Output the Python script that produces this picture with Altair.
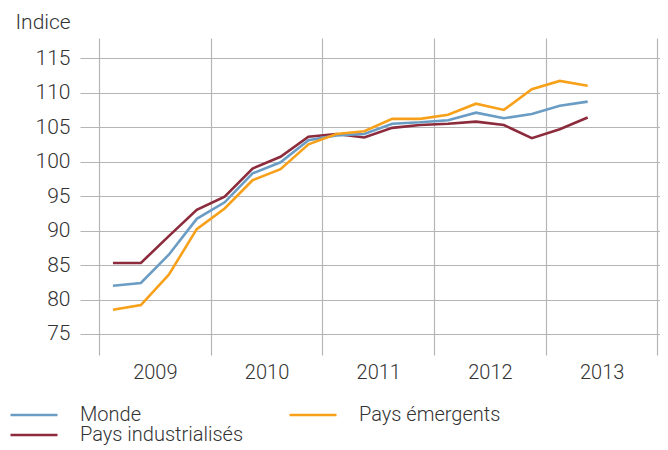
import altair as alt
import pandas as pd

quarters = ["2009-Q1", "2009-Q2", "2009-Q3", "2009-Q4",
            "2010-Q1", "2010-Q2", "2010-Q3", "2010-Q4",
            "2011-Q1", "2011-Q2", "2011-Q3", "2011-Q4",
            "2012-Q1", "2012-Q2", "2012-Q3", "2012-Q4",
            "2013-Q1", "2013-Q2"]

monde = [82.0, 82.4, 86.5, 91.7, 94.1, 98.3, 99.9, 103.1, 103.8, 104.0,
         105.5, 105.7, 106.0, 107.1, 106.3, 106.9, 108.1, 108.7]
industrialises = [85.3, 85.3, 89.2, 93.0, 94.9, 99.0, 100.7, 103.6, 104.0, 103.5,
                  104.9, 105.3, 105.5, 105.8, 105.3, 103.4, 104.7, 106.4]
emergents = [78.5, 79.2, 83.6, 90.2, 93.2, 97.3, 98.9, 102.5, 104.0, 104.4,
             106.2, 106.2, 106.8, 108.4, 107.5, 110.5, 111.7, 111.0]

series_names = ["Monde", "Pays émergents", "Pays industrialisés"]
series_colors = ["#6b9dc4", "#f7a11a", "#8c2b3c"]
year_ticks = [2009, 2010, 2011, 2012, 2013, 2014]
y_ticks = [75, 80, 85, 90, 95, 100, 105, 110, 115]


def qpos(q):
    y, qq = q.split("-Q")
    return int(y) + (int(qq) - 0.5) / 4


rows = []
for name, vals in [("Pays industrialisés", industrialises), ("Monde", monde),
                   ("Pays émergents", emergents)]:
    for q, v in zip(quarters, vals):
        rows.append({"t": qpos(q), "v": v, "serie": name})
df = pd.DataFrame(rows)

FONT = "Roboto"
TXT = "#333333"
GRID = "#b5b5b5"

chart = alt.Chart(df).mark_line(strokeWidth=2.6).encode(
    x=alt.X("t:Q",
            scale=alt.Scale(domain=[2008.8299, 2014.0224], nice=False, zero=False),
            axis=alt.Axis(values=year_ticks, format="d",
                          labelExpr="datum.value < 2014 ? datum.label : ''",
                          labelOffset=55.85, labelFlush=False, labelOverlap=False,
                          grid=True, gridColor=GRID, gridWidth=1.2,
                          domain=False, ticks=False, labelPadding=17,
                          labelBaseline="middle", title=None)),
    y=alt.Y("v:Q",
            scale=alt.Scale(domain=[71.95, 117.93], nice=False, zero=False),
            axis=alt.Axis(values=y_ticks, grid=True, gridColor=GRID, gridWidth=1.2,
                          domain=False, ticks=False, labelPadding=10,
                          labelFontSize=21,
                          title="Indice", titleAngle=0, titleAlign="left",
                          titleBaseline="middle", titleX=-65, titleY=-16,
                          titleFontWeight=300, titleFontSize=21,
                          titleFont=FONT, titleColor=TXT)),
    color=alt.Color("serie:N",
                    scale=alt.Scale(domain=series_names, range=series_colors),
                    legend=alt.Legend(orient="none", legendX=-56, legendY=367,
                                      direction="horizontal", columns=2,
                                      symbolType="M-4,0H4", symbolSize=138,
                                      symbolStrokeWidth=2.6, labelOffset=36,
                                      columnPadding=40, rowPadding=0,
                                      labelLimit=400,
                                      padding=0, title=None)),
    detail="serie:N",
).properties(
    width=580, height=317,
    autosize=alt.AutoSizeParams(type="none"),
    padding={"left": 72, "top": 30, "right": 0, "bottom": 92},
    background="white",
).configure_view(stroke=None).configure_axis(
    labelFont=FONT, labelFontSize=20, labelColor=TXT, labelFontWeight=300,
).configure_legend(
    labelFont=FONT, labelFontSize=20, labelColor=TXT, labelFontWeight=300,
)

chart.save("out.html", embed_options={"renderer": "svg", "actions": False})
